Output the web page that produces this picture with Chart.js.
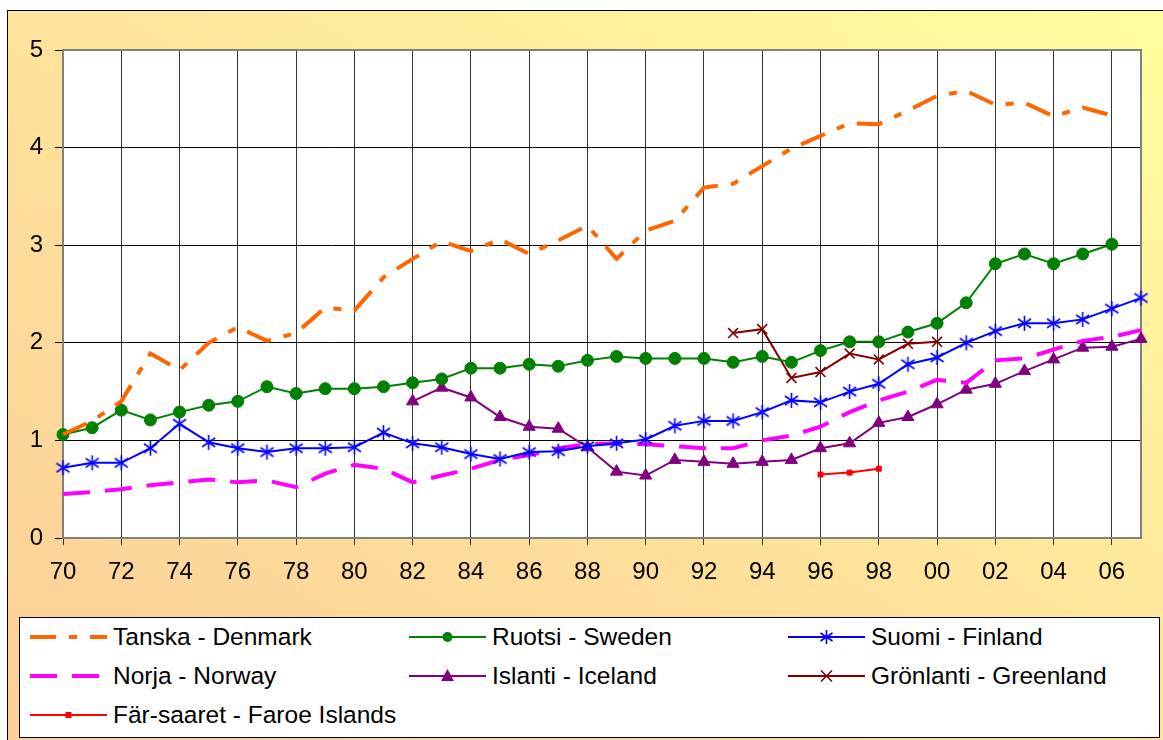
<!DOCTYPE html>
<html>
<head>
<meta charset="utf-8">
<script src="https://cdn.jsdelivr.net/npm/chart.js@4.4.1/dist/chart.umd.min.js"></script>
<style>
  body { margin: 0; background: #fff; width: 1163px; height: 740px; overflow: hidden; position: relative; font-family: "Liberation Sans", Arial, sans-serif; }
  #frame { position: absolute; left: 7px; top: 10px; width: 1170px; height: 740px; border-top: 1px solid #000; border-left: 1px solid #000;
           background: linear-gradient(to top right, #fcce97 0%, #fee39b 50%, #ffff9e 100%); }
  #chart { position: absolute; left: 0; top: 0; }
  #legend { position: absolute; left: 19px; top: 617px; width: 1139px; height: 119px; background: #fff; border: 1px solid #000; }
  .item { position: absolute; height: 28px; display: flex; align-items: center; font-size: 24.5px; color: #000; white-space: nowrap; }
  .item svg { margin-right: 6px; }
</style>
</head>
<body>
<div id="frame"></div>
<canvas id="chart" width="1163" height="600"></canvas>
<div id="legend"></div>
<script>
// years along the axis (tick labels, every other one shown)
const years = ["70","71","72","73","74","75","76","77","78","79",
               "80","81","82","83","84","85","86","87","88","89",
               "90","91","92","93","94","95","96","97","98","99",
               "00","01","02","03","04","05","06","07"];

const seriesNames = ["Tanska - Denmark", "Ruotsi - Sweden", "Suomi - Finland",
                     "Norja - Norway", "Islanti - Iceland", "Grönlanti - Greenland",
                     "Fär-saaret - Faroe Islands"];

const denmark = [1.06,1.2,1.4,1.89,1.72,2.0,2.16,2.02,2.1,2.36,
                 2.33,2.67,2.86,3.04,2.94,3.06,2.91,3.05,3.2,2.86,
                 3.15,3.25,3.59,3.63,3.81,3.99,4.12,4.25,4.24,4.38,
                 4.53,4.58,4.44,4.46,4.32,4.41,4.33,null];
const sweden = [1.06,1.13,1.31,1.21,1.29,1.36,1.4,1.55,1.48,1.53,
                1.53,1.55,1.59,1.63,1.74,1.74,1.78,1.76,1.82,1.86,
                1.84,1.84,1.84,1.8,1.86,1.8,1.92,2.01,2.01,2.11,
                2.2,2.41,2.81,2.91,2.81,2.91,3.01,null];
const finland = [0.72,0.77,0.77,0.92,1.17,0.98,0.92,0.88,0.92,0.92,
                 0.93,1.08,0.97,0.93,0.86,0.81,0.88,0.89,0.94,0.97,
                 1.01,1.15,1.2,1.2,1.29,1.41,1.39,1.5,1.58,1.78,
                 1.85,2.0,2.12,2.2,2.2,2.24,2.35,2.46];
const norway = [0.45,0.47,0.5,0.54,0.57,0.6,0.57,0.59,0.52,0.66,
                0.75,0.71,0.57,0.64,0.71,0.8,0.85,0.92,0.96,0.97,
                0.96,0.94,0.92,0.92,1.0,1.05,1.14,1.29,1.41,1.5,
                1.62,1.59,1.82,1.84,1.93,2.02,2.06,2.13];
const iceland = [null,null,null,null,null,null,null,null,null,null,
                 null,null,1.4,1.54,1.44,1.24,1.14,1.12,0.93,0.68,
                 0.64,0.8,0.78,0.76,0.78,0.8,0.92,0.97,1.18,1.24,
                 1.37,1.52,1.58,1.71,1.83,1.95,1.96,2.04];
const greenland = [null,null,null,null,null,null,null,null,null,null,
                   null,null,null,null,null,null,null,null,null,null,
                   null,null,null,2.1,2.14,1.64,1.7,1.89,1.83,1.99,
                   2.01,null,null,null,null,null,null,null];
const faroe = [null,null,null,null,null,null,null,null,null,null,
               null,null,null,null,null,null,null,null,null,null,
               null,null,null,null,null,null,0.65,0.67,0.71,null,
               null,null,null,null,null,null,null,null];

const yTicks = [0, 1, 2, 3, 4, 5];

// six-armed asterisk marker (vertical + X) as used for Finland
function asterisk(color, size) {
    const c = document.createElement("canvas");
    c.width = size; c.height = size;
    const g = c.getContext("2d");
    g.strokeStyle = color; g.lineWidth = 1.6;
    const m = size / 2, r = size / 2 - 1;
    g.beginPath();
    g.moveTo(m, m - r); g.lineTo(m, m + r);
    g.moveTo(m - r * 0.87, m - r * 0.6); g.lineTo(m + r * 0.87, m + r * 0.6);
    g.moveTo(m + r * 0.87, m - r * 0.6); g.lineTo(m - r * 0.87, m + r * 0.6);
    g.stroke();
    return c;
}

const styles = [
    { color: "#ff6600", width: 4, dash: [26, 13, 8, 13], point: false },
    { color: "#008000", width: 2, dash: [], point: "circle", radius: 6 },
    { color: "#0000ff", width: 2, dash: [], point: asterisk("#0000ff", 17), radius: 8 },
    { color: "#ff00ff", width: 4, dash: [27, 15], point: false },
    { color: "#800080", width: 2, dash: [], point: "triangle", radius: 7 },
    { color: "#800000", width: 2, dash: [], point: "crossRot", radius: 7 },
    { color: "#ff0000", width: 2, dash: [], point: "rect", radius: 3.5 }
];
const values = [denmark, sweden, finland, norway, iceland, greenland, faroe];

const datasets = values.map((data, i) => {
    const s = styles[i];
    return {
        label: seriesNames[i],
        data: data,
        borderColor: s.color,
        backgroundColor: s.color,
        borderWidth: s.width,
        borderDash: s.dash,
        pointStyle: s.point,
        pointRadius: s.point ? s.radius : 0,
        pointBorderWidth: s.point === "crossRot" ? 1.6 : 1,
        pointBackgroundColor: s.color,
        pointBorderColor: s.color,
        tension: 0,
        spanGaps: false,
        clip: false
    };
});

const plotArea = {
    id: "plotArea",
    beforeDraw(chart) {
        const a = chart.chartArea, ctx = chart.ctx;
        ctx.save();
        ctx.fillStyle = "#fff";
        ctx.fillRect(a.left, a.top, a.right - a.left, a.bottom - a.top);
        ctx.restore();
    },
    beforeDatasetsDraw(chart) {
        const a = chart.chartArea, ctx = chart.ctx;
        ctx.save();
        ctx.strokeStyle = "#808080";
        ctx.lineWidth = 2;
        ctx.strokeRect(a.left, a.top, a.right - a.left, a.bottom - a.top);
        ctx.restore();
    }
};

Chart.defaults.font.family = '"Liberation Sans", Arial, sans-serif';
Chart.defaults.color = "#000";

new Chart(document.getElementById("chart"), {
    type: "line",
    data: { labels: years, datasets: datasets },
    options: {
        responsive: false,
        devicePixelRatio: 1,
        animation: false,
        layout: { padding: { left: 0, top: 50, right: 22, bottom: 0 } },
        plugins: { legend: { display: false }, tooltip: { enabled: false } },
        scales: {
            x: {
                offset: false,
                afterFit(scale) { scale.height = 62; },
                grid: { color: "#333", lineWidth: 1, tickLength: 7, drawTicks: true },
                border: { display: false },
                ticks: {
                    autoSkip: false, maxRotation: 0, padding: 13,
                    font: { size: 24 },
                    callback(v, i) { return i % 2 === 0 ? this.getLabelForValue(v) : null; }
                }
            },
            y: {
                min: yTicks[0], max: yTicks[yTicks.length - 1],
                afterFit(scale) { scale.width = 63; },
                afterBuildTicks(scale) { scale.ticks = yTicks.map(v => ({ value: v })); },
                grid: { color: "#000", lineWidth: 1, tickLength: 8 },
                border: { display: false },
                ticks: { padding: 12, font: { size: 24 } }
            }
        }
    },
    plugins: [plotArea]
});

// legend: three columns, sample line with marker + label
const legend = document.getElementById("legend");
const svgNS = "http://www.w3.org/2000/svg";
seriesNames.forEach((name, i) => {
    const s = styles[i];
    const col = i % 3, row = Math.floor(i / 3);
    const item = document.createElement("div");
    item.className = "item";
    item.style.left = (10 + col * 379) + "px";
    item.style.top = (5 + row * 39) + "px";
    const svg = document.createElementNS(svgNS, "svg");
    svg.setAttribute("width", 77); svg.setAttribute("height", 20);
    const line = document.createElementNS(svgNS, "line");
    line.setAttribute("x1", 0); line.setAttribute("x2", 77);
    line.setAttribute("y1", 10); line.setAttribute("y2", 10);
    line.setAttribute("stroke", s.color);
    line.setAttribute("stroke-width", s.width);
    if (s.dash.length) line.setAttribute("stroke-dasharray", s.dash.join(" "));
    svg.appendChild(line);
    let mk = null;
    if (s.point === "circle") {
        mk = document.createElementNS(svgNS, "circle");
        mk.setAttribute("cx", 38.5); mk.setAttribute("cy", 10); mk.setAttribute("r", 5);
        mk.setAttribute("fill", s.color);
    } else if (s.point === "triangle") {
        mk = document.createElementNS(svgNS, "polygon");
        mk.setAttribute("points", "38.5,3 45,15 32,15");
        mk.setAttribute("fill", s.color);
    } else if (s.point === "rect") {
        mk = document.createElementNS(svgNS, "rect");
        mk.setAttribute("x", 35.5); mk.setAttribute("y", 7); mk.setAttribute("width", 6); mk.setAttribute("height", 6);
        mk.setAttribute("fill", s.color);
    } else if (s.point === "crossRot") {
        mk = document.createElementNS(svgNS, "path");
        mk.setAttribute("d", "M33,4.5 L44,15.5 M44,4.5 L33,15.5");
        mk.setAttribute("stroke", s.color); mk.setAttribute("stroke-width", 1.6);
    } else if (s.point) {
        mk = document.createElementNS(svgNS, "path");
        mk.setAttribute("d", "M38.5,3 L38.5,17 M32.5,6 L44.5,14 M44.5,6 L32.5,14");
        mk.setAttribute("stroke", s.color); mk.setAttribute("stroke-width", 1.6);
    }
    if (mk) svg.appendChild(mk);
    item.appendChild(svg);
    const label = document.createElement("span");
    label.textContent = name;
    item.appendChild(label);
    legend.appendChild(item);
});
</script>
</body>
</html>
